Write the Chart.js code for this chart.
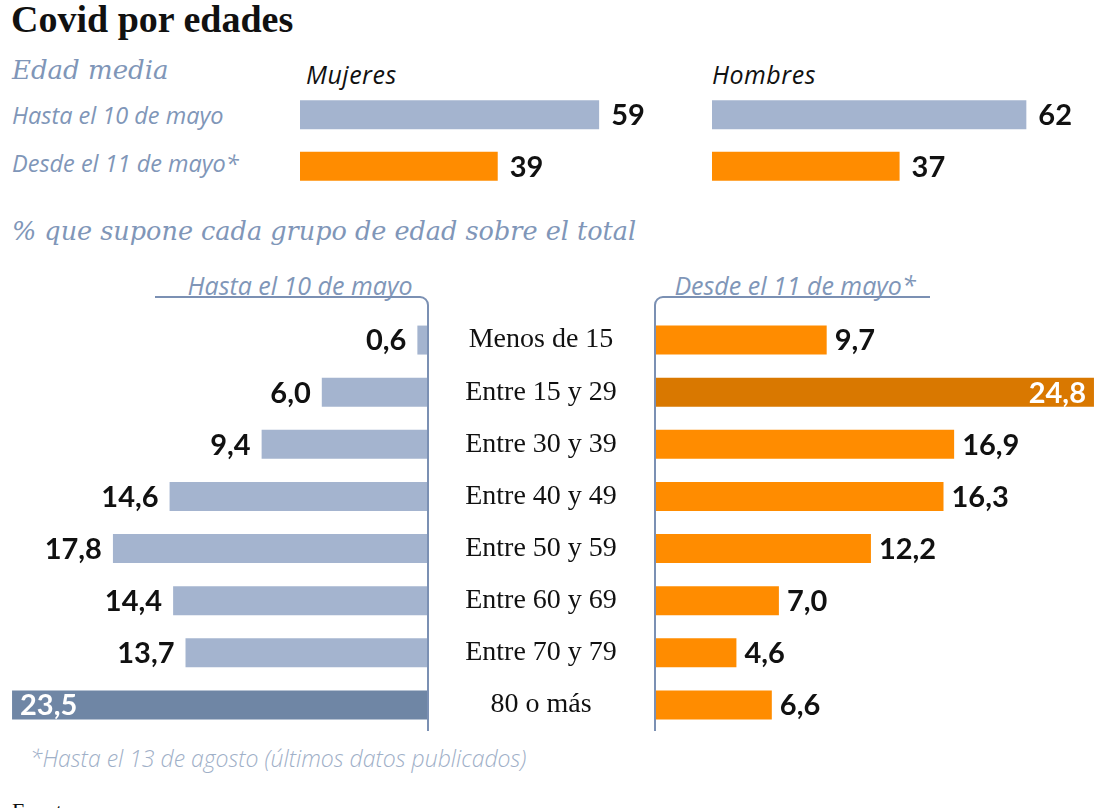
<!DOCTYPE html>
<html>
<head>
<meta charset="utf-8">
<script src="https://cdn.jsdelivr.net/npm/chart.js@4.4.0/dist/chart.umd.min.js"></script>
<style>
  html,body{margin:0;padding:0;background:#fff;}
  body{width:1104px;height:808px;overflow:hidden;position:relative;}
  .t{position:absolute;white-space:nowrap;line-height:1;}
  .c{position:absolute;}
  .title{left:11px;top:-3px;font:bold 38px "Liberation Serif",serif;color:#111;}
  .serifIt{font-family:"DejaVu Serif",serif;font-style:italic;color:#8096b8;}
  .sansIt{font-family:"Open Sans",sans-serif;font-style:italic;color:#8096b8;}
  .hdr{width:340px;text-align:center;font-size:25px;}
</style>
</head>
<body>
<div class="t title">Covid por edades</div>
<div class="t serifIt" style="left:12px;top:57px;font-size:26px;">Edad media</div>
<div class="t sansIt" style="left:12px;top:104px;font-size:23.5px;">Hasta el 10 de mayo</div>
<div class="t sansIt" style="left:12px;top:152px;font-size:23.5px;">Desde el 11 de mayo*</div>
<div class="t sansIt" style="left:306px;top:62px;font-size:25px;letter-spacing:0.5px;color:#111;">Mujeres</div>
<div class="t sansIt" style="left:712px;top:62px;font-size:25px;letter-spacing:0.5px;color:#111;">Hombres</div>
<div class="t serifIt" style="left:12px;top:219px;font-size:25.5px;">% que supone cada grupo de edad sobre el total</div>
<div class="t sansIt hdr" style="left:130px;top:273px;">Hasta el 10 de mayo</div>
<div class="t sansIt hdr" style="left:625px;top:273px;">Desde el 11 de mayo*</div>
<div class="t sansIt" style="left:30px;top:747px;font-size:23px;font-weight:300;color:#9fb0c8;">*Hasta el 13 de agosto (últimos datos publicados)</div>
<div class="t" style="left:12px;top:798px;font:22px 'Liberation Serif',serif;color:#111;">Fuente</div>

<canvas id="mujeres" class="c" width="400" height="120" style="left:300px;top:80px;"></canvas>
<canvas id="hombres" class="c" width="392" height="120" style="left:712px;top:80px;"></canvas>
<canvas id="hasta" class="c" width="660" height="450" style="left:0px;top:290px;"></canvas>
<canvas id="desde" class="c" width="464" height="450" style="left:640px;top:290px;"></canvas>

<script>
// ---- data ----
const periods = ['Hasta el 10 de mayo', 'Desde el 11 de mayo*'];
const edadMujeres = [59, 39];
const edadHombres = [62, 37];
const ageGroups = ['Menos de 15', 'Entre 15 y 29', 'Entre 30 y 39', 'Entre 40 y 49',
                   'Entre 50 y 59', 'Entre 60 y 69', 'Entre 70 y 79', '80 o más'];
const pctHasta = [0.6, 6.0, 9.4, 14.6, 17.8, 14.4, 13.7, 23.5];
const pctDesde = [9.7, 24.8, 16.9, 16.3, 12.2, 7.0, 4.6, 6.6];

// ---- styles ----
const BLUE = '#a4b4cf', BLUE_DARK = '#6f86a5';
const ORANGE = '#ff8c00', ORANGE_DARK = '#d97800';
const AXIS = '#7b90b3';
const TOP_PX = 5.07;   // pixels per year (top bars)
const PCT_PX = 17.7;   // pixels per percentage point (bottom bars)
const VALUE_FONT = 'bold 29px Lato, "Open Sans", sans-serif';

const barLabels = {
  id: 'barLabels',
  afterDatasetsDraw(chart, args, o) {
    const ctx = chart.ctx;
    const meta = chart.getDatasetMeta(0);
    const data = chart.data.datasets[0].data;
    ctx.save();
    ctx.font = o.font;
    ctx.textBaseline = 'middle';
    meta.data.forEach((bar, i) => {
      const v = data[i];
      const txt = o.decimals ? v.toFixed(o.decimals).replace('.', ',') : String(v);
      const dir = o.dir;
      if (i === o.highlight) {
        ctx.fillStyle = '#fff';
        ctx.textAlign = dir > 0 ? 'right' : 'left';
        ctx.fillText(txt, bar.x - dir * o.inset, bar.y + 1);
      } else {
        ctx.fillStyle = '#111';
        ctx.textAlign = dir > 0 ? 'left' : 'right';
        ctx.fillText(txt, bar.x + dir * o.gap, bar.y + 1);
      }
    });
    if (o.catOffset) {
      ctx.font = o.catFont;
      ctx.fillStyle = '#111';
      ctx.textAlign = 'center';
      const ys = chart.scales.y;
      chart.data.labels.forEach((lab, i) => {
        ctx.fillText(lab, chart.chartArea.right + o.catOffset, ys.getPixelForValue(i));
      });
    }
    ctx.restore();
  }
};

const axisLine = {
  id: 'axisLine',
  afterDatasetsDraw(chart, args, o) {
    if (!o.draw) return;
    const ctx = chart.ctx, a = chart.chartArea;
    const r = 8, y0 = o.top;
    ctx.save();
    ctx.strokeStyle = AXIS;
    ctx.lineWidth = 2;
    ctx.beginPath();
    if (o.side === 'left') {
      const x0 = a.right;
      ctx.moveTo(x0 - o.len, y0);
      ctx.lineTo(x0 - r, y0);
      ctx.arcTo(x0, y0, x0, y0 + r, r);
      ctx.lineTo(x0, a.bottom);
    } else {
      const x0 = a.left;
      ctx.moveTo(x0 + o.len, y0);
      ctx.lineTo(x0 + r, y0);
      ctx.arcTo(x0, y0, x0, y0 + r, r);
      ctx.lineTo(x0, a.bottom);
    }
    ctx.stroke();
    ctx.restore();
  }
};

function idxMax(arr) { return arr.indexOf(Math.max(...arr)); }

function topChart(id, values, width) {
  return new Chart(document.getElementById(id), {
    type: 'bar',
    data: {
      labels: periods,
      datasets: [{ data: values, backgroundColor: [BLUE, ORANGE], borderWidth: 0,
                   categoryPercentage: 1, barPercentage: 0.563 }]
    },
    options: {
      indexAxis: 'y', responsive: false, animation: false, devicePixelRatio: 1,
      layout: { padding: { top: 9, bottom: 8, left: 0, right: 0 } },
      scales: {
        x: { display: false, min: 0, max: width / TOP_PX },
        y: { display: false }
      },
      plugins: {
        legend: { display: false }, tooltip: { enabled: false },
        barLabels: { font: VALUE_FONT, dir: 1, gap: 12, inset: 8, highlight: -1, decimals: 0 },
        axisLine: { draw: false }
      }
    },
    plugins: [barLabels, axisLine]
  });
}

topChart('mujeres', edadMujeres, 400);
topChart('hombres', edadHombres, 392);

const hiH = idxMax(pctHasta), hiD = idxMax(pctDesde);

new Chart(document.getElementById('hasta'), {
  type: 'bar',
  data: {
    labels: ageGroups,
    datasets: [{ data: pctHasta, borderWidth: 0, categoryPercentage: 1, barPercentage: 0.556,
                 backgroundColor: pctHasta.map((v, i) => i === hiH ? BLUE_DARK : BLUE) }]
  },
  options: {
    indexAxis: 'y', responsive: false, animation: false, devicePixelRatio: 1,
    layout: { padding: { top: 24, bottom: 9, left: 12, right: 232 } },
    scales: {
      x: { display: false, reverse: true, min: 0, max: 416 / PCT_PX },
      y: { display: false }
    },
    plugins: {
      legend: { display: false }, tooltip: { enabled: false },
      barLabels: { font: VALUE_FONT, dir: -1, gap: 11, inset: 8, highlight: hiH, decimals: 1,
                   catOffset: 113, catFont: '28px "Liberation Serif", serif' },
      axisLine: { draw: true, side: 'left', top: 7, len: 273 }
    }
  },
  plugins: [barLabels, axisLine]
});

new Chart(document.getElementById('desde'), {
  type: 'bar',
  data: {
    labels: ageGroups,
    datasets: [{ data: pctDesde, borderWidth: 0, categoryPercentage: 1, barPercentage: 0.556,
                 backgroundColor: pctDesde.map((v, i) => i === hiD ? ORANGE_DARK : ORANGE) }]
  },
  options: {
    indexAxis: 'y', responsive: false, animation: false, devicePixelRatio: 1,
    layout: { padding: { top: 24, bottom: 9, left: 15, right: 0 } },
    scales: {
      x: { display: false, min: 0, max: 449 / PCT_PX },
      y: { display: false }
    },
    plugins: {
      legend: { display: false }, tooltip: { enabled: false },
      barLabels: { font: VALUE_FONT, dir: 1, gap: 8, inset: 8, highlight: hiD, decimals: 1 },
      axisLine: { draw: true, side: 'right', top: 7, len: 275 }
    }
  },
  plugins: [barLabels, axisLine]
});
</script>
</body>
</html>
